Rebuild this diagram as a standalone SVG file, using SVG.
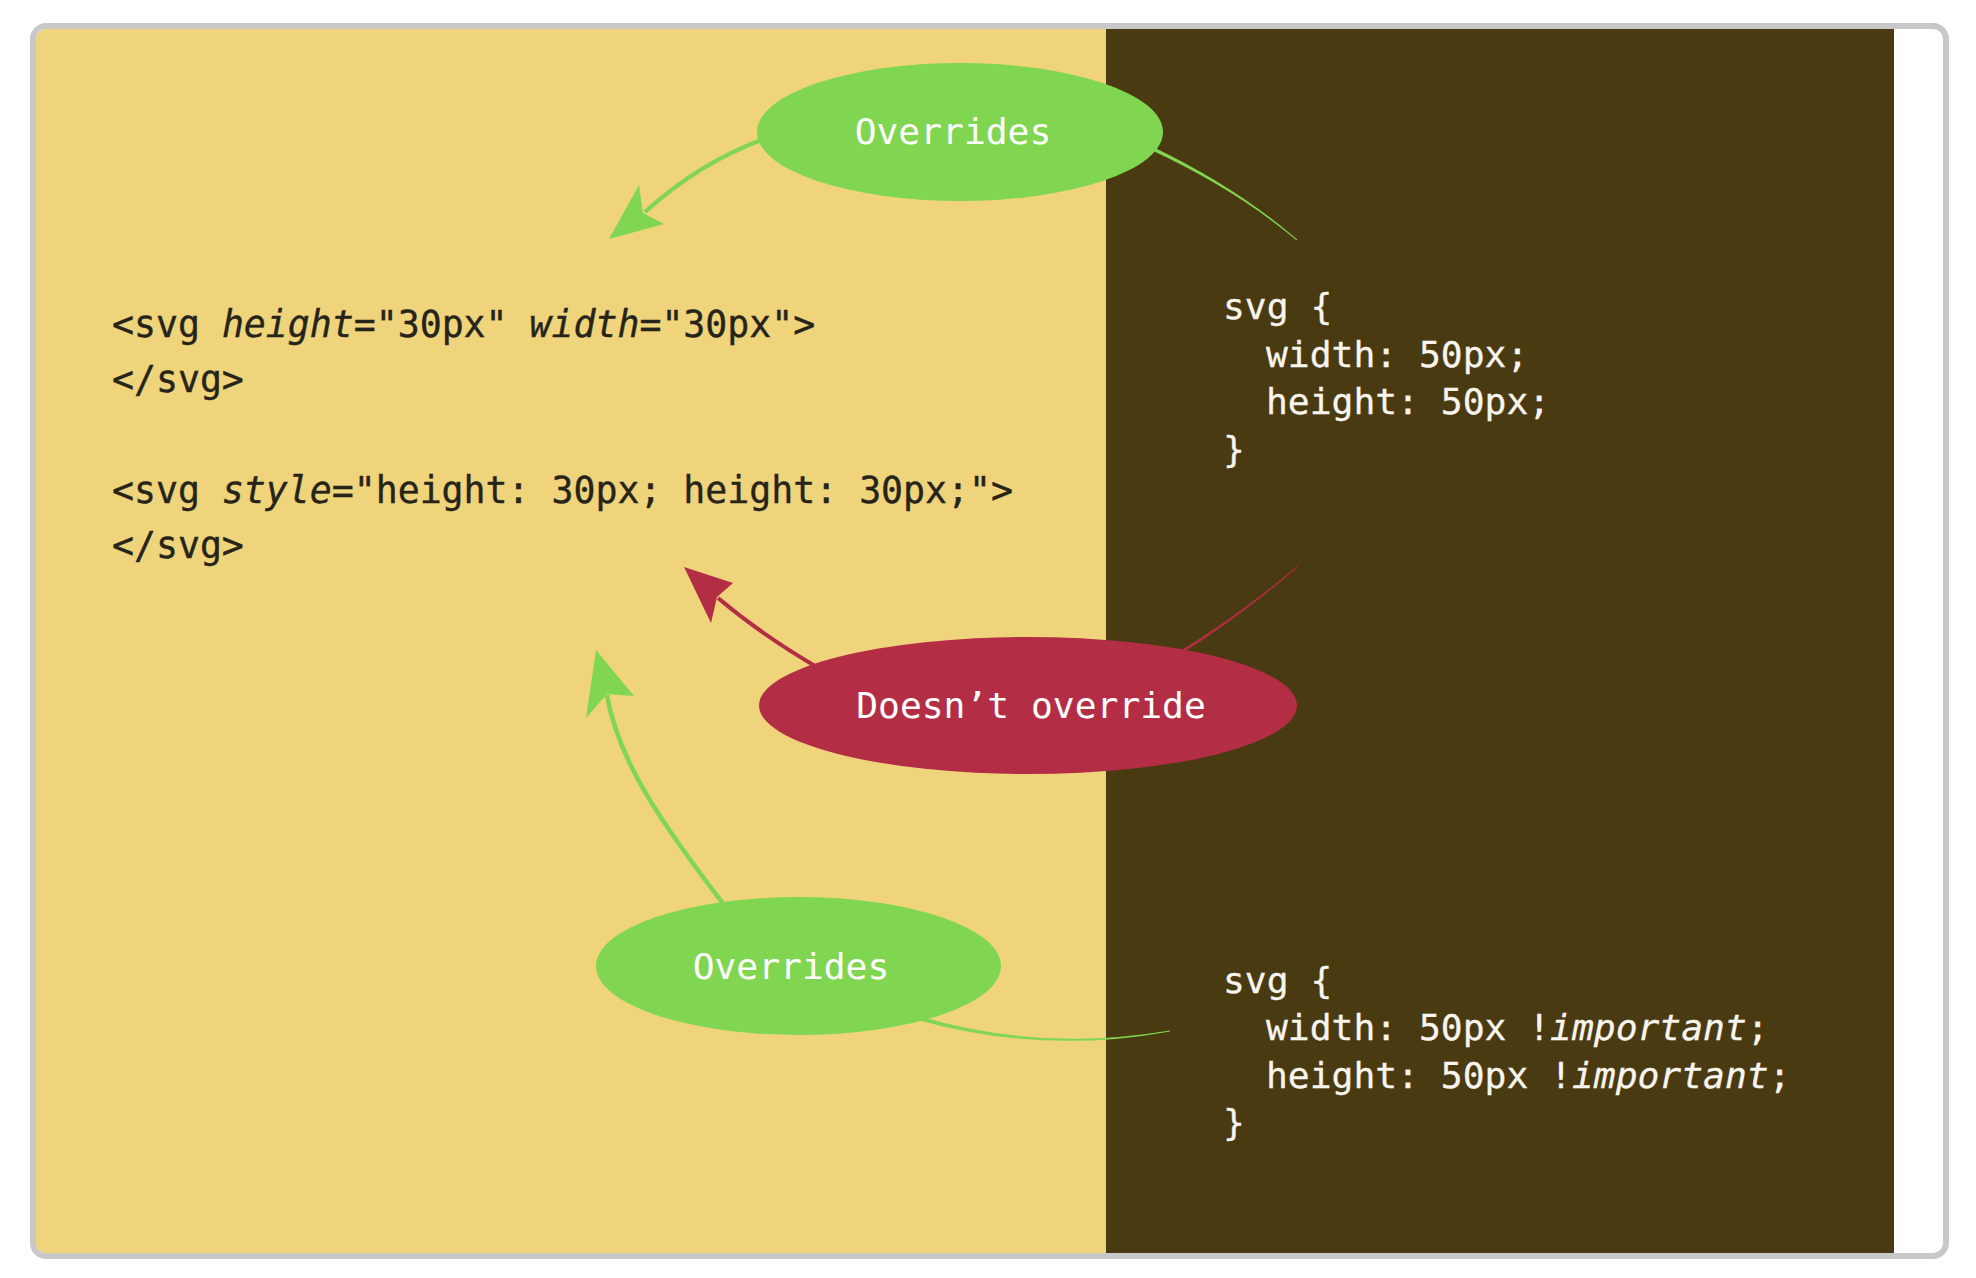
<svg xmlns="http://www.w3.org/2000/svg" width="1976" height="1278" viewBox="0 0 1976 1278">
  <defs>
    <clipPath id="panel">
      <rect x="36" y="29" width="1908" height="1224" rx="10"/>
    </clipPath>
    <style>
      .code { font-family: "DejaVu Sans Mono", "Liberation Mono", monospace; font-size: 36.3px; }
      .dark { fill: #262419; stroke: #262419; stroke-width: 0.4px; font-size: 36.5px; }
      .light { fill: #f7f5ee; stroke: #f7f5ee; stroke-width: 0.3px; }
      .it { font-style: italic; }
      .label { font-family: "DejaVu Sans Mono", "Liberation Mono", monospace; font-size: 36.3px; fill: #ffffff; text-anchor: middle; }
      .green { fill: #80d651; }
      .red { fill: #b32e45; }
      .gline { fill: none; stroke: #80d651; stroke-width: 4; }
      .rline { fill: none; stroke: #b32e45; stroke-width: 4; }
    </style>
  </defs>

  <g id="frame">
    <rect x="33" y="26" width="1913" height="1230" rx="13" fill="#ffffff" stroke="#c8c8c8" stroke-width="6"/>
    <g clip-path="url(#panel)">
      <rect x="36" y="29" width="1070" height="1224" fill="#efd47c"/>
      <rect x="1106" y="29" width="788" height="1224" fill="#4a3a12"/>
    </g>
  </g>

  <g id="connectors">
    <!-- top: CSS rule overrides attributes -->
    <path class="green" d="M1150,149.6 Q1235.3,189 1296.8,240.4 L1297.2,239.6 Q1236.7,187 1152,146.4 Z"/>
    <path class="gline" d="M764,139 Q699.5,162.5 645,212"/>
    <path class="green" d="M609,239 L639,185 L643,213 L664,224 Z"/>
    <!-- middle: CSS rule does not override inline style -->
    <path class="red" d="M1178.7,655.3 Q1239.5,617.4 1297.2,567.4 L1296.8,566.6 Q1238.5,615.6 1177.3,652.7 Z"/>
    <path class="rline" d="M822,670 Q763,636 718,598"/>
    <path class="red" d="M684,567 L733,583 L717,597 L711,623 Z"/>
    <!-- bottom: !important overrides inline style -->
    <path class="green" d="M914.5,1018.9 Q1040,1055.3 1170.1,1031.4 L1169.9,1030.6 Q1040,1052.7 915.5,1015.1 Z"/>
    <path class="gline" style="stroke-width:4.5" d="M728,910 C660,822 618,760 607,695"/>
    <path class="green" d="M596,650 L634,696 L607,694 L586,718 Z"/>
  </g>

  <g id="node-top-overrides">
    <ellipse class="green" cx="960" cy="132" rx="203" ry="69"/>
    <text class="label" x="953" y="144">Overrides</text>
  </g>

  <g id="node-doesnt-override">
    <ellipse class="red" cx="1028" cy="705.5" rx="269" ry="68.5"/>
    <text class="label" x="1031" y="718">Doesn’t override</text>
  </g>

  <g id="node-bottom-overrides">
    <ellipse class="green" cx="798.5" cy="966" rx="202.5" ry="69"/>
    <text class="label" x="791" y="979">Overrides</text>
  </g>

  <g id="node-html-code" class="code dark">
    <text x="112" y="337">&lt;svg <tspan class="it">height</tspan>="30px" <tspan class="it">width</tspan>="30px"&gt;</text>
    <text x="112" y="392">&lt;/svg&gt;</text>
    <text x="112" y="503">&lt;svg <tspan class="it">style</tspan>="height: 30px; height: 30px;"&gt;</text>
    <text x="112" y="558">&lt;/svg&gt;</text>
  </g>

  <g id="node-css-rule" class="code light">
    <text x="1223" y="319">svg {</text>
    <text x="1266" y="366.5">width: 50px;</text>
    <text x="1266" y="414">height: 50px;</text>
    <text x="1223" y="461.5">}</text>
  </g>

  <g id="node-css-important" class="code light">
    <text x="1223" y="992.5">svg {</text>
    <text x="1266" y="1040">width: 50px !<tspan class="it">important</tspan>;</text>
    <text x="1266" y="1087.5">height: 50px !<tspan class="it">important</tspan>;</text>
    <text x="1223" y="1135">}</text>
  </g>
</svg>
